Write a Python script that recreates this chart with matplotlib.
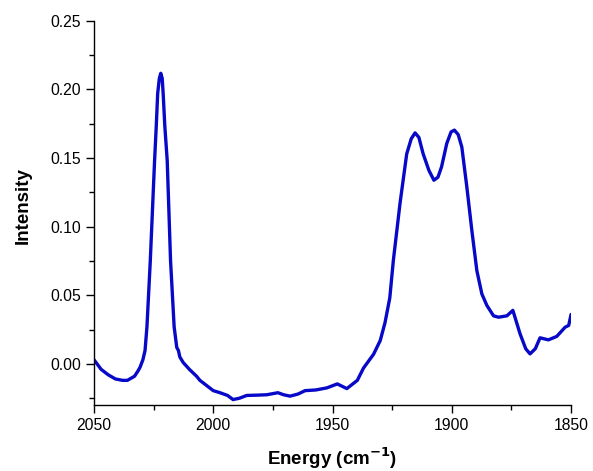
import matplotlib
matplotlib.use("Agg")
import matplotlib.pyplot as plt
from matplotlib.ticker import MultipleLocator

# IR spectrum, wavenumber (cm-1) vs intensity
energy = [2050, 2047, 2044, 2041, 2038, 2036, 2033, 2031.5, 2030.7, 2029.5,
          2028.6, 2027.8, 2026.4, 2024.6, 2023.9, 2023.3, 2022.6, 2022.0,
          2021.4, 2021.0, 2020.3, 2019.3, 2017.9, 2016.4, 2015.3, 2014.6,
          2014.0, 2012.6, 2010, 2007, 2005.6, 2000, 1997.2, 1994, 1991.7,
          1989, 1986, 1982, 1977.6, 1972.9, 1970.5, 1967.8, 1964.5, 1961.5,
          1957, 1952.4, 1948, 1944, 1939.6, 1937, 1932.8, 1930, 1928, 1926,
          1924.5, 1921.7, 1918.9, 1917, 1915.4, 1913.8, 1912, 1909.6, 1907.5,
          1905.8, 1904.3, 1902.1, 1900.3, 1898.9, 1897.3, 1895.8, 1893.7,
          1891.6, 1889.5, 1887.4, 1885.3, 1882.5, 1880.4, 1876.9, 1874.4,
          1871.4, 1869, 1867.2, 1865, 1863, 1859.5, 1856, 1852.5, 1851, 1850]
intensity = [0.003, -0.004, -0.008, -0.011, -0.012, -0.012, -0.009, -0.005,
             -0.0025, 0.003, 0.0097, 0.027, 0.075, 0.148, 0.173, 0.197, 0.208,
             0.2117, 0.208, 0.197, 0.173, 0.148, 0.075, 0.027, 0.012, 0.0097,
             0.005, 0.001, -0.004, -0.009, -0.012, -0.0195, -0.021, -0.023,
             -0.026, -0.025, -0.023, -0.0228, -0.0225, -0.021, -0.0225,
             -0.0235, -0.022, -0.0195, -0.019, -0.0175, -0.0146, -0.018,
             -0.012, -0.003, 0.007, 0.017, 0.03, 0.048, 0.0754, 0.117, 0.153,
             0.164, 0.1683, 0.165, 0.153, 0.141, 0.1338, 0.136, 0.1435, 0.1606,
             0.169, 0.1703, 0.167, 0.158, 0.129, 0.0973, 0.068, 0.051, 0.0426,
             0.035, 0.034, 0.035, 0.039, 0.022, 0.011, 0.0073, 0.011, 0.019,
             0.0175, 0.020, 0.0267, 0.028, 0.036]

plt.rcParams['font.family'] = ['Liberation Sans', 'DejaVu Sans']

fig = plt.figure(figsize=(5.93, 4.71), dpi=100)
ax = fig.add_axes([0.1585, 0.140, 0.8045, 0.816])

ax.plot(energy, intensity, color='#0808c8', linewidth=2.4,
        solid_joinstyle='round', solid_capstyle='round')

ax.set_xlim(2050, 1850)
ax.set_ylim(-0.03, 0.25)
ax.xaxis.set_major_locator(MultipleLocator(50))
ax.xaxis.set_minor_locator(MultipleLocator(25))
ax.yaxis.set_major_locator(MultipleLocator(0.05))
ax.yaxis.set_minor_locator(MultipleLocator(0.025))
ax.yaxis.set_major_formatter(plt.FormatStrFormatter('%.2f'))

ax.spines['top'].set_visible(False)
ax.spines['right'].set_visible(False)
for s in ('left', 'bottom'):
    ax.spines[s].set_linewidth(1.0)
ax.tick_params(which='major', direction='out', length=6, width=1.0, labelsize=11.3)
ax.tick_params(which='minor', direction='out', length=3.5, width=1.0)

ax.set_xlabel('Energy (cm$^{\\mathbf{-1}}$)', fontsize=13.5, fontweight='bold')
ax.xaxis.set_label_coords(0.5, -0.105)
ax.set_ylabel('Intensity', fontsize=13.5, fontweight='bold')
ax.yaxis.set_label_coords(-0.13, 0.52)

fig.savefig('out.png', dpi=100)
